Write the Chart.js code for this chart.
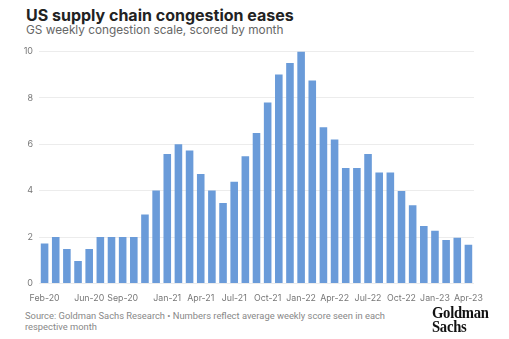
<!DOCTYPE html>
<html><head><meta charset="utf-8">
<script src="https://cdn.jsdelivr.net/npm/chart.js@4/dist/chart.umd.min.js"></script>
<style>
html,body{margin:0;padding:0;background:#fff;width:509px;height:339px;overflow:hidden;font-family:Inter,"Noto Sans",sans-serif;}
#title{position:absolute;left:26px;top:5px;font-size:16px;font-weight:700;color:#222;}
#sub{position:absolute;left:26px;top:23px;font-size:11.8px;color:#666;}
#wrap{position:absolute;left:0;top:40px;width:509px;height:266px;}
#src{position:absolute;left:25px;top:310px;font-family:Roboto,"Noto Sans",sans-serif;font-size:9.35px;color:#888;line-height:11px;white-space:nowrap;}
#logo{position:absolute;left:432px;top:306px;font-family:"Liberation Serif","DejaVu Serif",serif;font-weight:700;font-size:17px;line-height:13.5px;color:#111;letter-spacing:-0.3px;transform:scaleX(0.86);transform-origin:left top;}
</style></head><body>
<div id="title">US supply chain congestion eases</div>
<div id="sub">GS weekly congestion scale, scored by month</div>
<div id="wrap"><canvas id="c"></canvas></div>
<div id="src">Source: Goldman Sachs Research • Numbers reflect average weekly score seen in each<br>respective month</div>
<div id="logo">Goldman<br>Sachs</div>
<script>
const months = ["Feb-20","Mar-20","Apr-20","May-20","Jun-20","Jul-20","Aug-20","Sep-20","Oct-20","Nov-20","Dec-20",
"Jan-21","Feb-21","Mar-21","Apr-21","May-21","Jun-21","Jul-21","Aug-21","Sep-21","Oct-21","Nov-21","Dec-21",
"Jan-22","Feb-22","Mar-22","Apr-22","May-22","Jun-22","Jul-22","Aug-22","Sep-22","Oct-22","Nov-22","Dec-22",
"Jan-23","Feb-23","Mar-23","Apr-23"];
const congestion = [1.72,2.0,1.48,0.97,1.48,2.0,2.0,2.0,2.0,2.97,4.0,
5.58,6.0,5.73,4.72,4.0,3.47,4.38,5.48,6.48,7.8,9.0,9.5,
10.0,8.75,6.73,6.2,4.98,4.98,5.58,4.78,4.78,3.98,3.37,2.48,
2.27,1.87,1.97,1.67];
const shownTicks = ["Feb-20","Jun-20","Sep-20","Jan-21","Apr-21","Jul-21","Oct-21","Jan-22","Apr-22","Jul-22","Oct-22","Jan-23","Apr-23"];
const yTicks = [0,2,4,6,8,10];

new Chart(document.getElementById('c'), {
  type: 'bar',
  data: { labels: months, datasets: [{ data: congestion, backgroundColor: '#6a9bd9', barPercentage: 0.68, categoryPercentage: 1.0 }] },
  options: {
    responsive: true, maintainAspectRatio: false, animation: false,
    layout: { padding: { left: 15, right: 35, top: 4, bottom: 0 } },
    plugins: { legend: { display: false }, tooltip: { enabled: false } },
    scales: {
      x: {
        grid: { display: false }, border: { display: false },
        ticks: { autoSkip: false, maxRotation: 0, color: '#777', font: { family: 'Inter', size: 8.8 }, padding: 2,
          callback: function(v, i) { const l = months[i]; return shownTicks.includes(l) ? l : ''; } }
      },
      y: {
        min: 0, max: 10,
        afterFit: s => { s.width = 24; },
        afterBuildTicks: s => { s.ticks = yTicks.map(v => ({ value: v })); },
        grid: { color: '#ececec', drawTicks: false }, border: { display: false },
        ticks: { color: '#777', font: { family: 'Inter', size: 9 }, padding: 6 }
      }
    }
  }
});
</script>
</body></html>
